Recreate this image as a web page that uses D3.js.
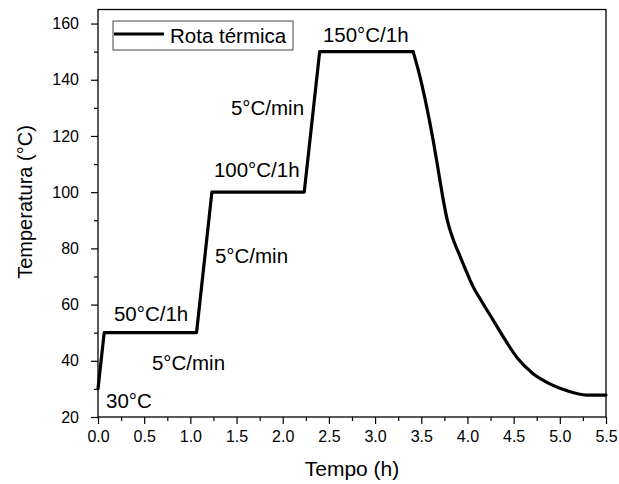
<!DOCTYPE html>
<html>
<head>
<meta charset="utf-8">
<script src="https://cdn.jsdelivr.net/npm/d3@7"></script>
<style>
  html, body { margin: 0; padding: 0; background: #fff; }
  text { font-family: "Liberation Sans", Arial, sans-serif; fill: #000; }
</style>
</head>
<body>
<div id="chart"></div>
<script>
// thermal route: time (h) and temperature (°C)
const tempo = [0, 0.067, 1.067, 1.233, 2.233, 2.40, 3.412, 3.479, 3.561, 3.631, 3.688, 3.745, 3.782, 3.837, 3.907, 3.983, 4.062, 4.153, 4.278, 4.405, 4.549, 4.711, 4.892, 5.072, 5.289, 5.5];
const temperatura = [30, 50, 50, 100, 100, 150, 150, 142, 130, 118, 107, 96, 90, 84, 78.2, 72.2, 66.3, 61.2, 54.5, 47.6, 40.6, 35.4, 31.8, 29.4, 27.8, 27.8];
const coolStart = 6; // index where the free cooling begins

const xTicks = [0, 0.5, 1, 1.5, 2, 2.5, 3, 3.5, 4, 4.5, 5, 5.5];
const yTicks = [20, 40, 60, 80, 100, 120, 140, 160];

const notes = ['30°C', '5°C/min', '50°C/1h', '5°C/min', '100°C/1h', '5°C/min', '150°C/1h'];
const noteT = [0.087, 0.584, 0.173, 1.266, 1.255, 1.439, 2.435];
const noteV = [23.2, 36.7, 54.3, 74.7, 105.3, 127.3, 153.3];

const seriesName = 'Rota térmica';

const W = 619, H = 484;
const m = { top: 9.5, right: 13, bottom: 67, left: 98 };
const iw = W - m.left - m.right;
const ih = H - m.top - m.bottom;

const svg = d3.select('#chart').append('svg')
  .attr('width', W).attr('height', H);

const g = svg.append('g').attr('transform', `translate(${m.left},${m.top})`);

const x = d3.scaleLinear().domain([0, 5.5]).range([0, iw]);
const y = d3.scaleLinear().domain([20, 165]).range([ih, 0]);

// minor ticks
const xMinor = d3.range(0.25, 5.5, 0.5);
const yMinor = d3.range(30, 165, 20);

g.append('g')
  .attr('transform', `translate(0,${ih})`)
  .call(d3.axisBottom(x).tickValues(xMinor).tickSize(4).tickFormat(''))
  .call(a => a.select('.domain').remove());
g.append('g')
  .call(d3.axisLeft(y).tickValues(yMinor).tickSize(4).tickFormat(''))
  .call(a => a.select('.domain').remove());

const xAxis = g.append('g')
  .attr('transform', `translate(0,${ih})`)
  .call(d3.axisBottom(x).tickValues(xTicks).tickSize(7).tickPadding(7).tickFormat(d3.format('.1f')));
xAxis.select('.domain').remove();
xAxis.selectAll('text').attr('font-size', 16).attr('font-family', '"Liberation Sans", Arial, sans-serif');

const yAxis = g.append('g')
  .call(d3.axisLeft(y).tickValues(yTicks).tickSize(7).tickPadding(12));
yAxis.select('.domain').remove();
yAxis.selectAll('text').attr('font-size', 16).attr('font-family', '"Liberation Sans", Arial, sans-serif');

g.selectAll('.tick line').attr('stroke', '#000').attr('stroke-width', 1.2);

// frame
g.append('rect')
  .attr('x', 0).attr('y', 0).attr('width', iw).attr('height', ih)
  .attr('fill', 'none').attr('stroke', '#000').attr('stroke-width', 1.3);

// curve: straight ramps and plateaus, then a smooth cooling
const ramp = d3.line()
  .x(i => x(tempo[i]))
  .y(i => y(temperatura[i]));
const cool = d3.line()
  .x(i => x(tempo[i]))
  .y(i => y(temperatura[i]))
  .curve(d3.curveMonotoneX);

[[d3.range(0, coolStart + 1), ramp], [d3.range(coolStart, tempo.length), cool]].forEach(([idx, gen]) => {
  g.append('path')
    .datum(idx)
    .attr('d', gen)
    .attr('fill', 'none')
    .attr('stroke', '#000')
    .attr('stroke-width', 3.2)
    .attr('stroke-linejoin', 'round')
    .attr('stroke-linecap', 'round');
});

// annotations
notes.forEach((t, i) => {
  g.append('text')
    .attr('x', x(noteT[i])).attr('y', y(noteV[i]))
    .attr('font-size', 20.5)
    .text(t);
});

// legend
const lg = g.append('g').attr('transform', 'translate(15,11.5)');
lg.append('rect')
  .attr('x', 0).attr('y', 0).attr('width', 180).attr('height', 29)
  .attr('fill', '#fff').attr('stroke', '#444').attr('stroke-width', 1);
lg.append('line')
  .attr('x1', 1).attr('x2', 51).attr('y1', 13).attr('y2', 13)
  .attr('stroke', '#000').attr('stroke-width', 3.2);
lg.append('text')
  .attr('x', 57).attr('y', 21.5)
  .attr('font-size', 20.5)
  .text(seriesName);

// axis titles
svg.append('text')
  .attr('x', m.left + iw / 2).attr('y', 476)
  .attr('text-anchor', 'middle')
  .attr('font-size', 21)
  .text('Tempo (h)');

svg.append('text')
  .attr('transform', 'translate(32,202) rotate(-90)')
  .attr('text-anchor', 'middle')
  .attr('font-size', 20)
  .text('Temperatura (°C)');
</script>
</body>
</html>
